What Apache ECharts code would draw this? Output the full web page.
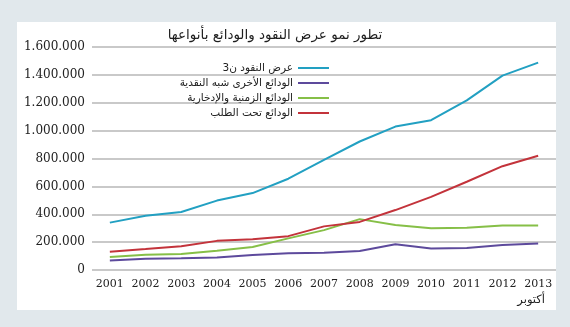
<!DOCTYPE html>
<html><head><meta charset="utf-8">
<script src="https://cdn.jsdelivr.net/npm/echarts@6/dist/echarts.min.js"></script>
<style>html,body{margin:0;padding:0;background:#e1e8ec;}#c{width:570px;height:327px;}</style>
</head><body><div id="c"></div>
<script>
var years = ['2001','2002','2003','2004','2005','2006','2007','2008','2009','2010','2011','2012','2013'];
var seriesNames = ['عرض النقود ن3','الودائع الأخرى شبه النقدية','الودائع الزمنية والإدخارية','الودائع تحت الطلب'];
var moneySupplyM3 = [340000, 390000, 416000, 498000, 552000, 655000, 790000, 922000, 1029000, 1075000, 1217000, 1395000, 1488000];
var quasiMoneyDeposits = [69000, 81000, 84000, 90000, 107000, 120000, 123000, 137000, 184000, 155000, 158000, 179000, 191000];
var timeSavingsDeposits = [93000, 110000, 115000, 138000, 165000, 227000, 286000, 365000, 323000, 299000, 303000, 320000, 320000];
var demandDeposits = [131000, 150000, 170000, 209000, 220000, 243000, 313000, 345000, 430000, 525000, 633000, 745000, 820000];
var yTicks = [0, 200000, 400000, 600000, 800000, 1000000, 1200000, 1400000, 1600000];
var colors = ['#22a0c2', '#5d4a9c', '#86bf47', '#c3333b'];
var titleText = 'تطور نمو عرض النقود والودائع بأنواعها';
var xNote = 'أكتوبر';

function fmt(v){ return String(v).replace(/\B(?=(\d{3})+(?!\d))/g, '.'); }

var chart = echarts.init(document.getElementById('c'));
var data = [moneySupplyM3, quasiMoneyDeposits, timeSavingsDeposits, demandDeposits];
chart.setOption({
  animation: false,
  backgroundColor: '#e1e8ec',
  graphic: [
    { type: 'rect', z: -10, shape: { x: 17, y: 22, width: 539, height: 288 }, style: { fill: '#ffffff' } },
    { type: 'text', x: 275, y: 35, style: { text: titleText, font: '13.5px "DejaVu Sans"', fill: '#1e1e1e', align: 'center', verticalAlign: 'middle' } },
    { type: 'text', x: 545, y: 300, style: { text: xNote, font: '11.5px "DejaVu Sans"', fill: '#222', align: 'right', verticalAlign: 'middle' } }
  ],
  legend: {
    orient: 'vertical', align: 'right', right: 236, top: 56,
    itemWidth: 31, itemHeight: 2, itemGap: 1, icon: 'rect',
    textStyle: { fontFamily: 'DejaVu Sans', fontSize: 10.5, color: '#222', lineHeight: 14 },
    data: seriesNames
  },
  grid: { left: 92, right: 14, top: 47, bottom: 57, containLabel: false },
  xAxis: {
    type: 'category', data: years, boundaryGap: true,
    axisLine: { show: false }, axisTick: { show: false },
    axisLabel: { interval: 0, margin: 9, fontFamily: 'DejaVu Serif', fontSize: 11, color: '#222' }
  },
  yAxis: {
    type: 'value', min: yTicks[0], max: yTicks[yTicks.length-1], interval: yTicks[1]-yTicks[0],
    axisLine: { show: false }, axisTick: { show: false },
    splitLine: { lineStyle: { color: '#c9c9c9', width: 2 } },
    axisLabel: { margin: 7, fontFamily: 'DejaVu Serif', fontSize: 12, color: '#222', formatter: fmt }
  },
  series: seriesNames.map(function(n, i){
    return { name: n, type: 'line', data: data[i], symbol: 'none', showSymbol: false,
      itemStyle: { color: colors[i] }, lineStyle: { color: colors[i], width: 2 } };
  })
});
</script></body></html>
